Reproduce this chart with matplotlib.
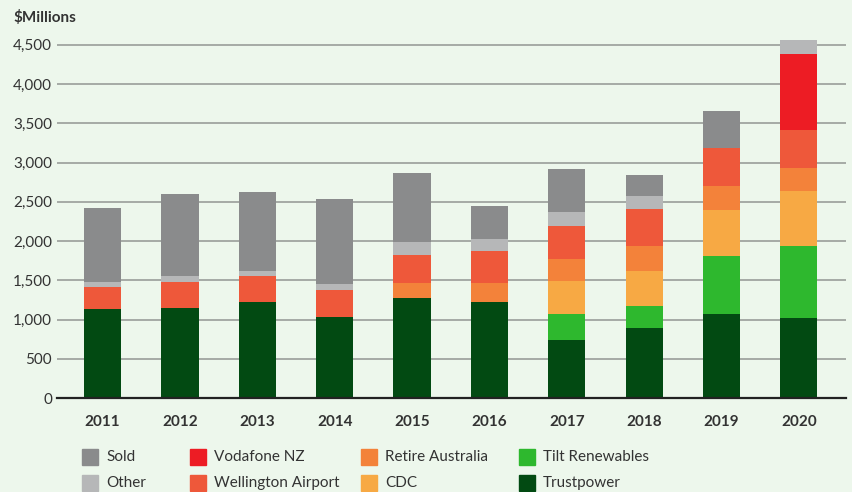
import matplotlib.pyplot as plt
from matplotlib.patches import Rectangle
import numpy as np

plt.rcParams['font.family'] = ['Lato', 'DejaVu Sans']

years = ["2011", "2012", "2013", "2014", "2015", "2016", "2017", "2018", "2019", "2020"]

# $Millions per holding, bottom to top of each stack
trustpower = [1135, 1147, 1224, 1033, 1275, 1224, 739, 892, 1071, 1020]
tilt = [0, 0, 0, 0, 0, 0, 332, 281, 739, 918]
cdc = [0, 0, 0, 0, 0, 0, 421, 446, 587, 701]
retire_aus = [0, 0, 0, 0, 191, 242, 280, 319, 306, 293]
wellington = [280, 332, 331, 344, 357, 408, 421, 471, 484, 485]
vodafone = [0, 0, 0, 0, 0, 0, 0, 0, 0, 968]
other = [64, 76, 64, 76, 166, 153, 178, 166, 0, 179]
sold = [943, 1046, 1007, 1084, 879, 421, 548, 268, 472, 0]

series = [
    ("Trustpower", trustpower, "#024a12"),
    ("Tilt Renewables", tilt, "#2eb82e"),
    ("CDC", cdc, "#f7a944"),
    ("Retire Australia", retire_aus, "#f3823a"),
    ("Wellington Airport", wellington, "#ee583a"),
    ("Vodafone NZ", vodafone, "#ed1c24"),
    ("Other", other, "#b6b7b8"),
    ("Sold", sold, "#8a8b8c"),
]
colors = {name: c for name, _, c in series}

bg = "#edf7ec"
W, H = 853, 492
fig = plt.figure(figsize=(W / 100, H / 100), dpi=100, facecolor=bg)
ax = fig.add_axes([57 / W, 1 - 398 / H, (846 - 57) / W, (398 - 37) / H], facecolor=bg)

x = np.arange(len(years))
bottom = np.zeros(len(years))
for name, vals, c in series:
    ax.bar(x, vals, width=0.48, bottom=bottom, color=c, zorder=3)
    bottom += np.array(vals)

ax.set_ylim(0, 4600)
ax.set_xlim(-0.59, 9.61)
ax.set_yticks(np.arange(0, 4501, 500))
ax.set_yticklabels([f"{v:,}" for v in range(0, 4501, 500)])
ax.yaxis.grid(True, color="#9a9d9a", lw=1.2, zorder=0)
ax.set_xticks(x)
ax.set_xticklabels(years, fontweight="bold")
ax.tick_params(axis="both", length=0, labelsize=11, colors="#333333")
ax.tick_params(axis="x", pad=12)
ax.tick_params(axis="y", pad=3.5)
for s in ["top", "right", "left"]:
    ax.spines[s].set_visible(False)
ax.spines["bottom"].set_color("#222222")
ax.spines["bottom"].set_linewidth(1.6)
ax.spines["bottom"].set_zorder(4)

fig.text(13 / W, 1 - 17 / H, "$Millions", fontsize=11, fontweight="bold",
         color="#333333", va="center", ha="left")

# legend laid out by hand
legend_cols = [(82, ["Sold", "Other"]), (190, ["Vodafone NZ", "Wellington Airport"]),
               (361, ["Retire Australia", "CDC"]), (519, ["Tilt Renewables", "Trustpower"])]
rows_y = [457, 483]
for lx, names in legend_cols:
    for ry, name in zip(rows_y, names):
        fig.patches.append(Rectangle((lx / W, 1 - (ry + 8) / H), 16 / W, 16 / H,
                                     transform=fig.transFigure, color=colors[name]))
        fig.text((lx + 24) / W, 1 - ry / H, name, fontsize=11, color="#333333",
                 va="center", ha="left")

fig.savefig("out.png", dpi=100, facecolor=bg)
